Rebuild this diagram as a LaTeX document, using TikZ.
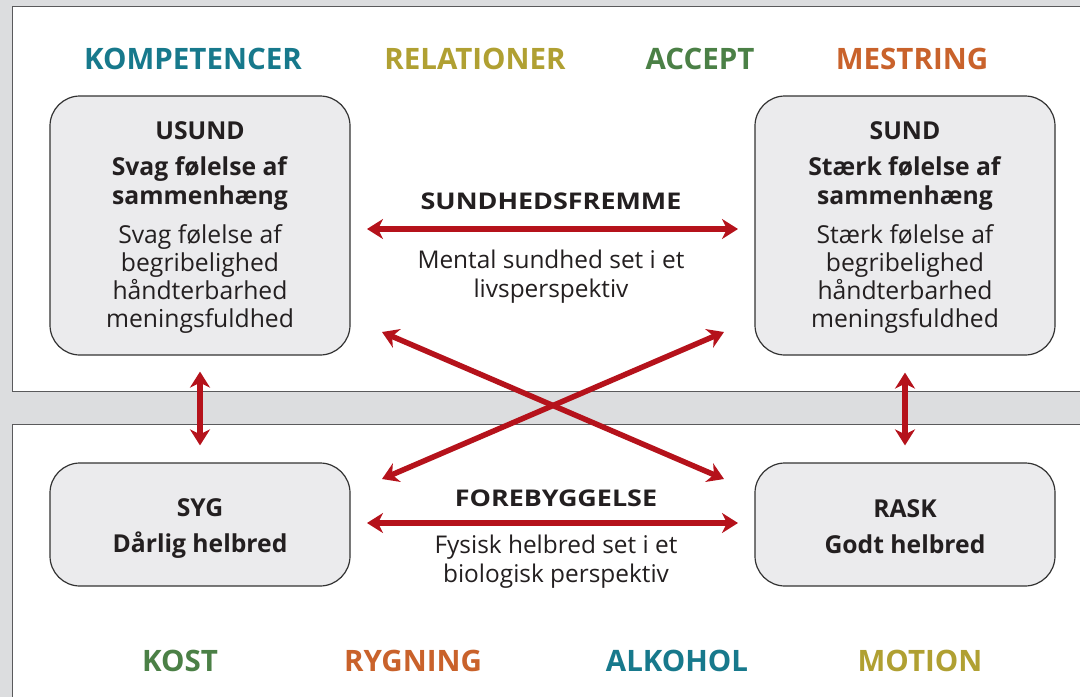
\documentclass[tikz,border=0pt]{standalone}
\usepackage{fontspec}
\setmainfont{Open Sans}
\newfontfamily\widesans[FakeStretch=1.17]{Open Sans}
\usetikzlibrary{arrows.meta}
\definecolor{bggray}{HTML}{DCDDDF}
\definecolor{panelline}{HTML}{5A5A5C}
\definecolor{boxfill}{HTML}{EBEBED}
\definecolor{boxline}{HTML}{333333}
\definecolor{ink}{HTML}{231F20}
\definecolor{arrowred}{HTML}{B5121B}
\definecolor{cteal}{HTML}{17798C}
\definecolor{colive}{HTML}{B0A032}
\definecolor{cgreen}{HTML}{4B8046}
\definecolor{corange}{HTML}{C9622B}
% fixed first-line height and last-line depth inside the state boxes
\newcommand\tophold[1]{\rule{0pt}{#1}}
\newcommand\bothold[1]{\rule[-#1]{0pt}{#1}}
\begin{document}
\begin{tikzpicture}[x=1pt,y=-1pt,
  topic/.style={font=\fontsize{29.5}{34}\selectfont\bfseries, anchor=base, inner sep=0pt},
  state/.style={draw=boxline, line width=1.2pt, fill=boxfill, rounded corners=30pt,
    minimum width=300pt, text=ink, align=center, inner sep=0pt,
    font=\fontsize{24.7}{28.2}\selectfont},
  midhead/.style={font=\widesans\fontsize{23}{28}\selectfont\bfseries, text=ink, anchor=base, inner sep=0pt},
  midtext/.style={font=\fontsize{24.4}{29}\selectfont, text=ink, align=center, anchor=base, inner sep=0pt},
  redarrow/.style={draw=arrowred, line width=5.5pt,
    {Stealth[length=16pt,width=20pt,inset=5pt]}-{Stealth[length=16pt,width=20pt,inset=5pt]}}
]
\useasboundingbox (0,0) rectangle (1080,697);
\fill[bggray] (0,0) rectangle (1080,697);

% two white panels, open to the right and bottom
\fill[white] (12.7,6.7) rectangle (1080,391.7);
\draw[panelline, line width=1.4pt] (1080,6.7) -- (12.7,6.7) -- (12.7,391.7) -- (1080,391.7);
\fill[white] (12.7,424.3) rectangle (1080,697);
\draw[panelline, line width=1.4pt] (1080,424.3) -- (12.7,424.3) -- (12.7,697);

% resource labels along the top
\node[topic, text=cteal]   (kompetencer) at (193,69) {KOMPETENCER};
\node[topic, text=colive]  (relationer)  at (475,69) {RELATIONER};
\node[topic, text=cgreen]  (accept)      at (700,69) {ACCEPT};
\node[topic, text=corange] (mestring)    at (912,69) {MESTRING};

% lifestyle labels along the bottom
\node[topic, text=cgreen]  (kost)    at (180,671) {KOST};
\node[topic, text=corange] (rygning) at (413,671) {RYGNING};
\node[topic, text=cteal]   (alkohol) at (677,671) {ALKOHOL};
\node[topic, text=colive]  (motion)  at (920,671) {MOTION};

% the four states
\node[state, minimum height=259pt] (usund) at (200,225.5)
  {\tophold{22pt}\textbf{USUND}\\[8.5pt]\textbf{Svag følelse af}\\\textbf{sammenhæng}\\[10.8pt]
   Svag følelse af\\begribelighed\\håndterbarhed\\meningsfuldhed\bothold{5pt}};
\node[state, minimum height=259pt] (sund) at (905,225.5)
  {\tophold{22pt}\textbf{SUND}\\[8.5pt]\textbf{Stærk følelse af}\\\textbf{sammenhæng}\\[10.8pt]
   Stærk følelse af\\begribelighed\\håndterbarhed\\meningsfuldhed\bothold{5pt}};
\node[state, minimum height=123pt] (syg) at (200,524.5)
  {\tophold{25pt}\textbf{SYG}\\[7.8pt]\textbf{Dårlig helbred}\bothold{4pt}};
\node[state, minimum height=123pt] (rask) at (905,524.5)
  {\tophold{25pt}\textbf{RASK}\\[7.8pt]\textbf{Godt helbred}\bothold{4pt}};

% middle captions
\node[midhead] (fremme) at (551,209) {SUNDHEDSFREMME};
\node[midtext] (mental) at (551,297) {Mental sundhed set i et\\livsperspektiv};
\node[midhead] (forebyg) at (556,506) {FOREBYGGELSE};
\node[midtext] (fysisk) at (556,582) {Fysisk helbred set i et\\biologisk perspektiv};

% arrow end points
\coordinate (tl) at (367,229);
\coordinate (tr) at (738,229);
\coordinate (bl) at (367,523);
\coordinate (br) at (738,523);
\coordinate (xul) at (382,332);
\coordinate (xur) at (724,332);
\coordinate (xll) at (382,479);
\coordinate (xlr) at (724,479);

% connectors
\draw[redarrow] (tl) -- (tr);
\draw[redarrow] (bl) -- (br);
\draw[redarrow] (xul) -- (xlr);
\draw[redarrow] (xll) -- (xur);
\draw[redarrow, shorten <=16pt, shorten >=17pt] (usund) -- (syg);
\draw[redarrow, shorten <=17pt, shorten >=17pt] (sund) -- (rask);
\end{tikzpicture}
\end{document}
